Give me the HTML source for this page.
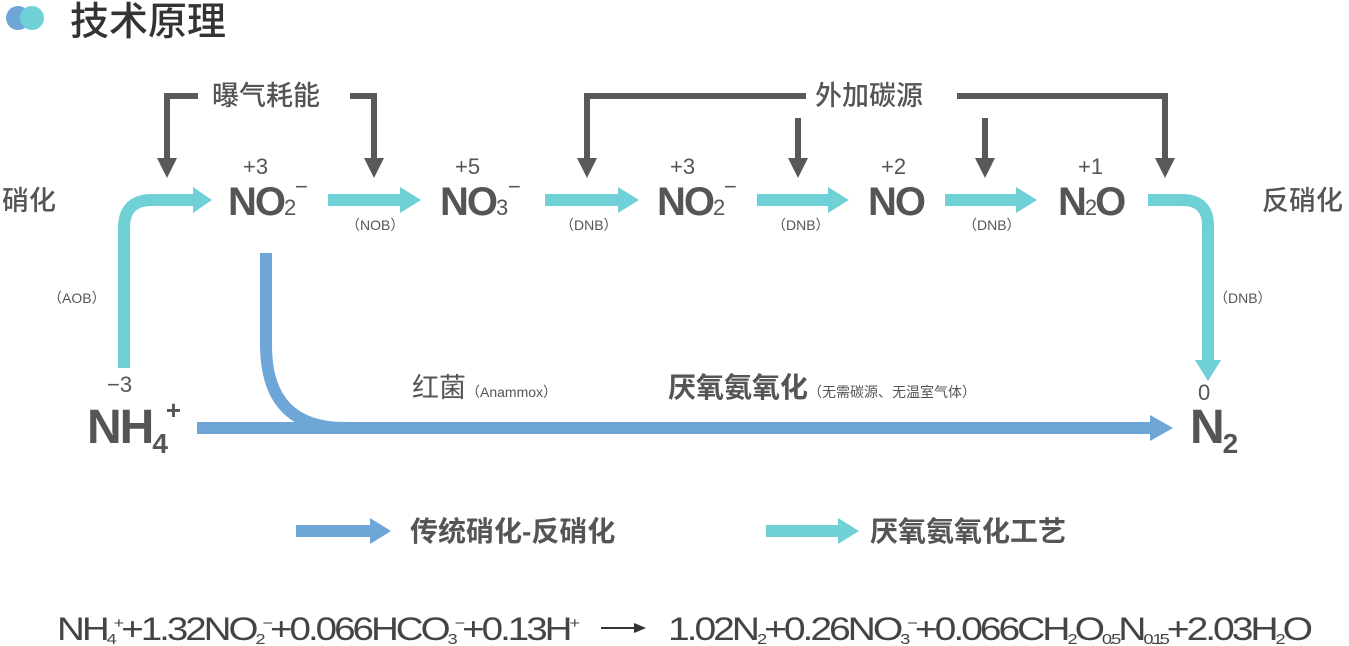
<!DOCTYPE html>
<html><head><meta charset="utf-8"><style>body{margin:0;background:#fff}svg{display:block}</style></head><body>
<svg width="1349" height="646" viewBox="0 0 1349 646" xmlns="http://www.w3.org/2000/svg" font-family="Liberation Sans, Noto Sans CJK SC, sans-serif">
<circle cx="18" cy="18" r="12" fill="#6ea6d8"/><circle cx="32" cy="18" r="12" fill="#6fd0d6"/>
<text x="70" y="35" font-size="39" font-weight="500" fill="#333">技术原理</text>
<g font-size="27" font-weight="500" fill="#555">
<text x="2" y="210">硝化</text><text x="1262" y="210">反硝化</text>
<text x="212" y="105">曝气耗能</text><text x="815" y="105">外加碳源</text>
</g>
<g stroke="#595959" stroke-width="6" fill="none">
<path d="M198,96 H167 V160"/><path d="M350,96 H374 V160"/>
<path d="M806,96 H587 V160"/><path d="M957,96 H1165 V160"/>
<path d="M798,118 V160"/><path d="M985,118 V160"/>
</g>
<g fill="#595959">
<path d="M157,158 L177,158 L167,178z"/><path d="M364,158 L384,158 L374,178z"/>
<path d="M577,158 L597,158 L587,178z"/><path d="M1155,158 L1175,158 L1165,178z"/>
<path d="M788,158 L808,158 L798,178z"/><path d="M975,158 L995,158 L985,178z"/>
</g>
<g stroke="#6fd0d6" stroke-width="12" fill="none">
<path d="M124,368 V228 Q124,200 152,200 H195"/>
<path d="M328,200 H402"/><path d="M545,200 H620"/><path d="M757,200 H830"/><path d="M945,200 H1018"/>
<path d="M1148,200 H1182 Q1208,200 1208,226 V362"/>
<path d="M766,531 H840"/>
</g>
<g fill="#6fd0d6">
<path d="M193,187 L212,200 L193,213z"/><path d="M400,187 L421,200 L400,213z"/><path d="M618,187 L639,200 L618,213z"/>
<path d="M828,187 L849,200 L828,213z"/><path d="M1016,187 L1037,200 L1016,213z"/>
<path d="M1195,360 L1221,360 L1208,381z"/><path d="M838,518 L859,531 L838,544z"/>
</g>
<g stroke="#6ea6d8" stroke-width="12" fill="none">
<path d="M266,253 V345 Q266,428 345,428"/><path d="M197,428 H1152"/><path d="M296,531 H372"/>
</g>
<g fill="#6ea6d8"><path d="M1150,415 L1173,428 L1150,441z"/><path d="M370,518 L391,531 L370,544z"/></g>
<g fill="#555" font-size="40" font-weight="bold" letter-spacing="-2">
<text x="228" y="215">NO<tspan font-size="22" font-weight="normal">2</tspan></text>
<text x="440" y="215">NO<tspan font-size="22" font-weight="normal">3</tspan></text>
<text x="657" y="215">NO<tspan font-size="22" font-weight="normal">2</tspan></text>
<text x="868" y="215">NO</text>
<text x="1058" y="215">N<tspan font-size="22" font-weight="normal">2</tspan>O</text>
<text x="87" y="443" font-size="48">NH<tspan font-size="28" dy="10">4</tspan><tspan font-size="26" dy="-34">+</tspan></text>
<text x="1190" y="443" font-size="48">N<tspan font-size="28" dy="10">2</tspan></text>
</g>
<g fill="#555" font-size="22">
<text x="295" y="194">−</text><text x="508" y="194">−</text><text x="724" y="194">−</text>
<text x="243" y="174">+3</text><text x="455" y="174">+5</text><text x="670" y="174">+3</text><text x="881" y="174">+2</text><text x="1078" y="174">+1</text>
<text x="107" y="392">−3</text><text x="1198" y="400">0</text>
</g>
<g fill="#555" font-size="14">
<text x="346" y="230">（NOB）</text><text x="560" y="230">（DNB）</text><text x="772" y="230">（DNB）</text><text x="963" y="230">（DNB）</text>
<text x="1214" y="303">（DNB）</text><text x="48" y="303">（AOB）</text>
</g>
<text x="412" y="397" font-size="27" fill="#555">红菌<tspan font-size="14">（Anammox）</tspan></text>
<text x="668" y="397" font-size="28" font-weight="bold" fill="#555">厌氧氨氧化<tspan font-size="14" font-weight="normal">（无需碳源、无温室气体）</tspan></text>
<g font-size="28" font-weight="bold" fill="#555"><text x="410" y="541">传统硝化-反硝化</text><text x="870" y="541">厌氧氨氧化工艺</text></g>
<g fill="#444" font-size="32" letter-spacing="-2.5">
<text x="57" y="640" textLength="520" lengthAdjust="spacingAndGlyphs">NH<tspan font-size="15" dy="4">4</tspan><tspan font-size="15" dy="-16">+</tspan><tspan dy="12">+1.32NO</tspan><tspan font-size="15" dy="4">2</tspan><tspan font-size="15" dy="-16">−</tspan><tspan dy="12">+0.066HCO</tspan><tspan font-size="15" dy="4">3</tspan><tspan font-size="15" dy="-16">−</tspan><tspan dy="12">+0.13H</tspan><tspan font-size="15" dy="-12">+</tspan></text>
<text x="668" y="640" textLength="642" lengthAdjust="spacingAndGlyphs">1.02N<tspan font-size="15" dy="4">2</tspan><tspan dy="-4">+0.26NO</tspan><tspan font-size="15" dy="4">3</tspan><tspan font-size="15" dy="-16">−</tspan><tspan dy="12">+0.066CH</tspan><tspan font-size="15" dy="4">2</tspan><tspan dy="-4">O</tspan><tspan font-size="15" dy="4">0.5</tspan><tspan dy="-4">N</tspan><tspan font-size="15" dy="4">0.15</tspan><tspan dy="-4">+2.03H</tspan><tspan font-size="15" dy="4">2</tspan><tspan dy="-4">O</tspan></text>
</g>
<path d="M601,628 H636" stroke="#333" stroke-width="2"/><path d="M634,623 L646,628 L634,633z" fill="#333"/>
</svg>
</body></html>
